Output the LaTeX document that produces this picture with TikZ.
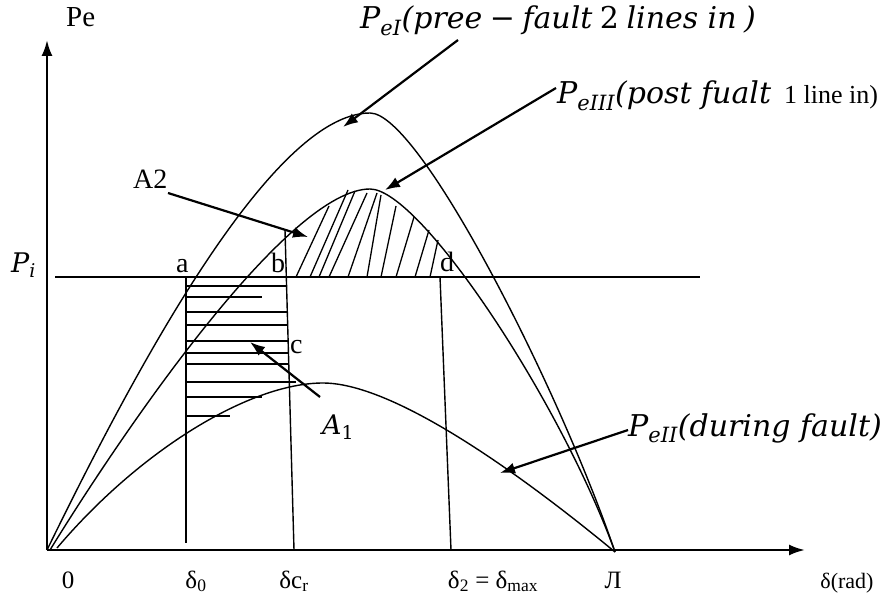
\documentclass[tikz,border=0pt]{standalone}
\usepackage{fontspec}
\setmainfont{Liberation Serif}
\newfontfamily\mfont{DejaVu Serif}
\newcommand\mi[1]{{\mfont\itshape #1}}
\usetikzlibrary{arrows.meta}
\begin{document}
\begin{tikzpicture}[x=1pt,y=-1pt,
  curve/.style={line width=1.4pt},
  axisline/.style={line width=2.4pt,-{Latex[length=16pt,width=11pt]}},
  ptr/.style={line width=2.2pt,-{Latex[length=15pt,width=11pt]}},
  hatch/.style={line width=1.3pt},
  vline/.style={line width=1.4pt},
  lbl/.style={font=\fontsize{28}{30}\selectfont, inner sep=0pt},
  mlbl/.style={font=\fontsize{30}{32}\selectfont, inner sep=0pt},
  plbl/.style={font=\fontsize{27}{30}\selectfont, inner sep=0pt},
  blbl/.style={font=\fontsize{25}{28}\selectfont, inner sep=0pt},
  slbl/.style={font=\fontsize{22}{24}\selectfont, inner sep=0pt},
]
\useasboundingbox (0,0) rectangle (882,596);
% axes
\coordinate (O) at (47,550);
\coordinate (Ytip) at (47,40);
\coordinate (Xtip) at (805,550);
\draw[axisline] (O) -- (Ytip);
\draw[axisline] (O) -- (Xtip);
% P_i line
\coordinate (PiL) at (55,277);
\coordinate (PiR) at (700,277);
\draw[vline] (PiL) -- (PiR);
% curves
\coordinate (E1) at (615,552);
\draw[curve] (O) .. controls (130,380) and (270,113) .. (370,113) .. controls (420,113) and (560,390) .. (E1);
\draw[curve] (50,550) .. controls (130,420) and (290,189) .. (370,189) .. controls (420,189) and (560,400) .. (E1);
\draw[curve] (57,548) .. controls (140,450) and (250,383) .. (323,383) .. controls (400,383) and (540,490) .. (E1);
% vertical lines
\coordinate (Atop) at (186,277);
\coordinate (Abot) at (186,543);
\coordinate (Btop) at (285,230);
\coordinate (Bbot) at (294,550);
\coordinate (Dtop) at (440,277);
\coordinate (Dbot) at (451,550);
\draw[vline] (Atop) -- (Abot);
\draw[vline] (Btop) -- (Bbot);
\draw[vline] (Dtop) -- (Dbot);
% hatching A1
\foreach \yy/\xr in {286/286,297/262,312/287,325/287,341/288,353/288,364/288,382/296,397/262,416/230}
  \draw[hatch] (186,\yy) -- (\xr,\yy);
% hatching A2
\foreach \xb/\xt/\yt in {296/329/206,310/348/190,319/355/191,329/367/193,348/377/193,367/381/195,381/396/206,396/414/217,415/429/230,430/438/240}
  \draw[hatch] (\xb,277) -- (\xt,\yt);
% labels
\node[lbl,anchor=base west,font=\fontsize{29}{30}\selectfont] (pe) at (66,27) {Pe};
\node[plbl,anchor=base west] (pi) at (11,272) {\mi{P}\textsubscript{\mi{i}}};
\node[lbl,anchor=base west] (la) at (176,272) {a};
\node[lbl,anchor=base west] (lb) at (271,272) {b};
\node[lbl,anchor=base west] (lc) at (290,353) {c};
\node[lbl,anchor=base west] (ld) at (440,271) {d};
\node[lbl,anchor=base west] (a2) at (133,188) {A2};
\node[plbl,anchor=base west] (a1) at (322,434) {\mi{A}\textsubscript{\mfont 1}};
\node[mlbl,anchor=base west] (pe1) at (360,29) {\mi{P}\textsubscript{\mi{eI}}\mi{(pree} {\mfont−} \mi{fault} {\mfont 2} \mi{lines in} \mi{)}};
\node[mlbl,anchor=base west] (pe3) at (557,104) {\mi{P}\textsubscript{\mi{eIII}}\mi{(post fualt}{\fontsize{26}{28}\selectfont\ \ 1 line in)}};
\node[mlbl,anchor=base west] (pe2) at (628,436) {\mi{P}\textsubscript{\mi{eII}}\mi{(during fault)}};
% bottom labels
\node[blbl,anchor=base] (t0) at (68,588) {0};
\node[blbl,anchor=base] (td0) at (196,588) {δ\textsubscript{0}};
\node[blbl,anchor=base] (tdc) at (294,588) {δc\textsubscript{r}};
\node[blbl,anchor=base] (td2) at (493,588) {δ\textsubscript{2} = δ\textsubscript{max}};
\node[blbl,anchor=base] (tpi) at (613,588) {Л};
\node[slbl,anchor=base] (trad) at (847,588) {δ(rad)};
% pointer arrows
\coordinate (p1s) at (458,40);  \coordinate (p1e) at (343,127);
\coordinate (p3s) at (556,88);  \coordinate (p3e) at (385,190);
\coordinate (a2s) at (168,193); \coordinate (a2e) at (308,237);
\coordinate (a1s) at (320,397); \coordinate (a1e) at (250,342);
\coordinate (p2s) at (628,430); \coordinate (p2e) at (500,473);
\draw[ptr] (p1s) -- (p1e);
\draw[ptr] (p3s) -- (p3e);
\draw[ptr] (a2s) -- (a2e);
\draw[ptr] (a1s) -- (a1e);
\draw[ptr] (p2s) -- (p2e);
\end{tikzpicture}
\end{document}
